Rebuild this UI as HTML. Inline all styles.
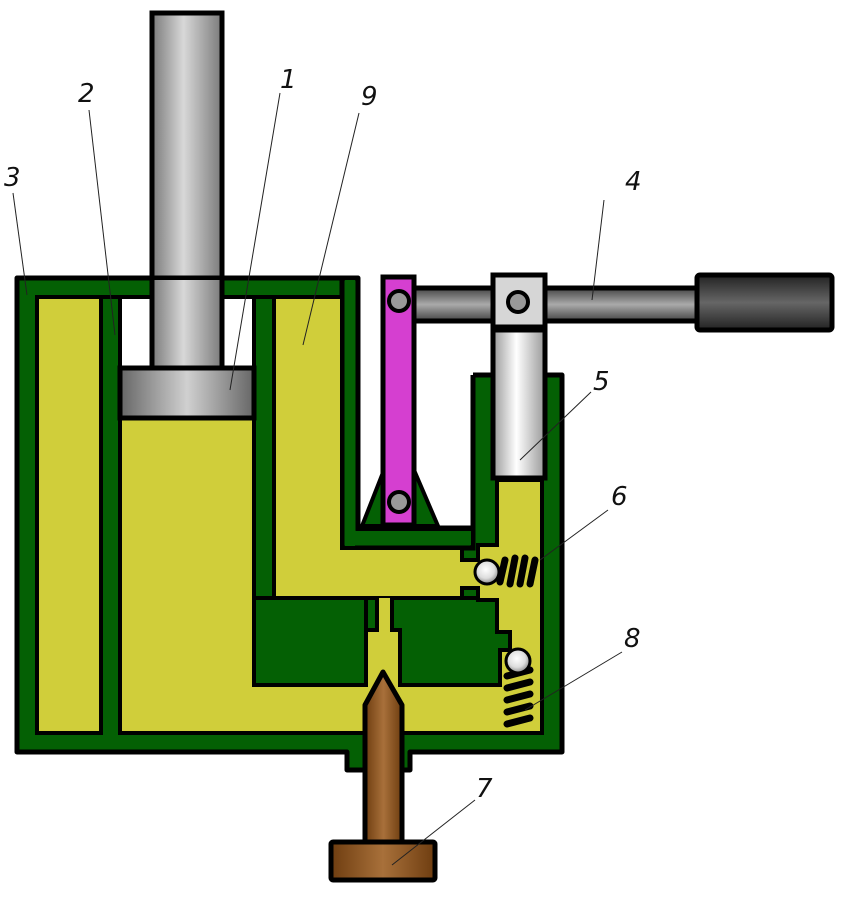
<!DOCTYPE html>
<html><head><meta charset="utf-8"><style>
html,body{margin:0;padding:0;background:#fff}
svg{display:block}
text{font-family:"DejaVu Sans","Liberation Sans",sans-serif;font-style:italic;font-size:26px;fill:#111}
</style></head><body>
<svg width="865" height="903" viewBox="0 0 865 903" xmlns="http://www.w3.org/2000/svg">
<defs>
<linearGradient id="rod" x1="0" x2="1" y1="0" y2="0">
<stop offset="0" stop-color="#7a7a7a"/><stop offset="0.45" stop-color="#d8d8d8"/><stop offset="1" stop-color="#7a7a7a"/></linearGradient>
<linearGradient id="pis" x1="0" x2="1" y1="0" y2="0">
<stop offset="0" stop-color="#666"/><stop offset="0.5" stop-color="#d0d0d0"/><stop offset="1" stop-color="#666"/></linearGradient>
<linearGradient id="pp" x1="0" x2="1" y1="0" y2="0">
<stop offset="0" stop-color="#999"/><stop offset="0.45" stop-color="#fff"/><stop offset="1" stop-color="#999"/></linearGradient>
<linearGradient id="hb" x1="0" x2="0" y1="0" y2="1">
<stop offset="0" stop-color="#444"/><stop offset="0.5" stop-color="#aaa"/><stop offset="1" stop-color="#444"/></linearGradient>
<linearGradient id="grip" x1="0" x2="0" y1="0" y2="1">
<stop offset="0" stop-color="#222"/><stop offset="0.5" stop-color="#666"/><stop offset="1" stop-color="#222"/></linearGradient>
<linearGradient id="br" x1="0" x2="1" y1="0" y2="0">
<stop offset="0" stop-color="#6e3d10"/><stop offset="0.5" stop-color="#a8703a"/><stop offset="1" stop-color="#6e3d10"/></linearGradient>
<radialGradient id="ball" cx="0.45" cy="0.4" r="0.6">
<stop offset="0" stop-color="#fff"/><stop offset="0.6" stop-color="#ddd"/><stop offset="1" stop-color="#888"/></radialGradient>
</defs>

<!-- rod 1 -->
<rect x="152" y="13" width="70" height="360" fill="url(#rod)" stroke="#000" stroke-width="5"/>

<!-- green body -->
<path d="M17,278 H358 V530 H473 V375 H562 V752 H410 V770 H347 V752 H17 Z" fill="#046004" stroke="#000" stroke-width="5" stroke-linejoin="round"/>
<!-- white cavity for lever -->
<rect x="358" y="278" width="115" height="250" fill="#fff"/>
<path d="M358,278 V528 H473 V375" fill="none" stroke="#000" stroke-width="5"/>
<!-- inner outline of cavity (green wall) -->
<path d="M342,278 V548 H473 V375" fill="none" stroke="#000" stroke-width="5"/>
<rect x="345" y="280" width="10" height="266" fill="#046004"/>
<rect x="345" y="531" width="126" height="14" fill="#046004"/>
<!-- top-wall horizontal black line -->
<line x1="37" y1="297" x2="342" y2="297" stroke="#000" stroke-width="4"/>

<!-- white space above piston -->
<rect x="120" y="297" width="134" height="71" fill="#fff" stroke="#000" stroke-width="4"/>
<rect x="152" y="280" width="70" height="90" fill="url(#rod)"/>
<line x1="152" y1="280" x2="152" y2="368" stroke="#000" stroke-width="5"/>
<line x1="222" y1="280" x2="222" y2="368" stroke="#000" stroke-width="5"/>

<!-- yellow regions -->
<g fill="#d0ce3a" stroke="#000" stroke-width="4" stroke-linejoin="miter">
<rect x="37" y="297" width="64" height="436"/>
<path d="M120,418 H254 V685 H366 V630 H377 V598 H392 V630 H400 V685 H500 V650 H510 V632 H497 V600 H478 V588 H462 V598 H274 V297 H342 V548 H462 V560 H478 V545 H497 V480 H542 V733 H120 Z"/>
</g>
<!-- fix: erase interior lines where channels join -->
<rect x="122" y="420" width="130" height="311" fill="#d0ce3a"/>
<rect x="254" y="687" width="286" height="44" fill="#d0ce3a"/>
<!-- inner green block -->
<path d="M254,598 H366 V630 H366 V685 H254 Z" fill="#046004" stroke="#000" stroke-width="4"/>
<path d="M400,630 H392 V598 H478 V600 H497 V632 H510 V650 H500 V685 H400 Z" fill="#046004" stroke="#000" stroke-width="4"/>
<rect x="368" y="632" width="30" height="58" fill="#d0ce3a"/>
<rect x="379" y="598" width="11" height="40" fill="#d0ce3a"/>
<rect x="502" y="652" width="38" height="40" fill="#d0ce3a"/>
<line x1="366" y1="630" x2="366" y2="685" stroke="#000" stroke-width="4"/>
<line x1="400" y1="630" x2="400" y2="685" stroke="#000" stroke-width="4"/>
<line x1="500" y1="650" x2="500" y2="685" stroke="#000" stroke-width="4"/>
<line x1="542" y1="478" x2="542" y2="735" stroke="#000" stroke-width="4"/>

<!-- piston 1 -->
<rect x="120" y="368" width="134" height="50" fill="url(#pis)" stroke="#000" stroke-width="5"/>

<!-- springs -->
<g stroke="#000" stroke-width="7" stroke-linecap="round">
<line x1="505" y1="560" x2="500" y2="582"/><line x1="515" y1="558" x2="510" y2="584"/>
<line x1="525" y1="558" x2="520" y2="584"/><line x1="535" y1="560" x2="530" y2="584"/>
<line x1="507" y1="676" x2="530" y2="670"/><line x1="507" y1="688" x2="530" y2="682"/>
<line x1="507" y1="700" x2="530" y2="694"/><line x1="507" y1="712" x2="530" y2="706"/>
<line x1="507" y1="724" x2="530" y2="718"/>
</g>
<circle cx="487" cy="572" r="12" fill="url(#ball)" stroke="#000" stroke-width="3"/>
<circle cx="518" cy="661" r="12" fill="url(#ball)" stroke="#000" stroke-width="3"/>

<!-- pump piston 5 -->
<rect x="493" y="330" width="52" height="148" fill="url(#pp)" stroke="#000" stroke-width="5"/>

<!-- handle -->
<rect x="412" y="288" width="288" height="33" fill="url(#hb)" stroke="#000" stroke-width="5"/>
<rect x="697" y="275" width="135" height="55" rx="3" fill="url(#grip)" stroke="#000" stroke-width="5"/>
<rect x="493" y="275" width="52" height="52" fill="#d6d6d6" stroke="#000" stroke-width="5"/>
<circle cx="518" cy="302" r="10" fill="#999" stroke="#000" stroke-width="4"/>

<!-- lever support triangles -->
<path d="M384,470 L362,526 H384 Z" fill="#046004" stroke="#000" stroke-width="4"/>
<path d="M414,470 L438,526 H414 Z" fill="#046004" stroke="#000" stroke-width="4"/>
<!-- magenta lever -->
<rect x="383" y="277" width="31" height="248" fill="#d53fd0" stroke="#000" stroke-width="5"/>
<circle cx="399" cy="301" r="10" fill="#999" stroke="#000" stroke-width="4"/>
<circle cx="399" cy="502" r="10" fill="#999" stroke="#000" stroke-width="4"/>

<!-- plunger 7 -->
<path d="M365,842 V705 L383,672 L402,705 V842 Z" fill="url(#br)" stroke="#000" stroke-width="5" stroke-linejoin="round"/>
<rect x="331" y="842" width="104" height="38" rx="2" fill="url(#br)" stroke="#000" stroke-width="5"/>

<!-- leader lines -->
<g stroke="#222" stroke-width="1">
<line x1="13" y1="193" x2="27" y2="295"/>
<line x1="89" y1="110" x2="115" y2="335"/>
<line x1="280" y1="93" x2="230" y2="390"/>
<line x1="359" y1="113" x2="303" y2="345"/>
<line x1="604" y1="200" x2="592" y2="300"/>
<line x1="591" y1="392" x2="520" y2="460"/>
<line x1="608" y1="510" x2="540" y2="560"/>
<line x1="622" y1="652" x2="525" y2="710"/>
<line x1="475" y1="800" x2="392" y2="865"/>
</g>
<text x="4" y="186">3</text>
<text x="78" y="102">2</text>
<text x="280" y="88">1</text>
<text x="361" y="105">9</text>
<text x="625" y="190">4</text>
<text x="593" y="390">5</text>
<text x="611" y="505">6</text>
<text x="624" y="647">8</text>
<text x="476" y="797">7</text>
</svg>
</body></html>
